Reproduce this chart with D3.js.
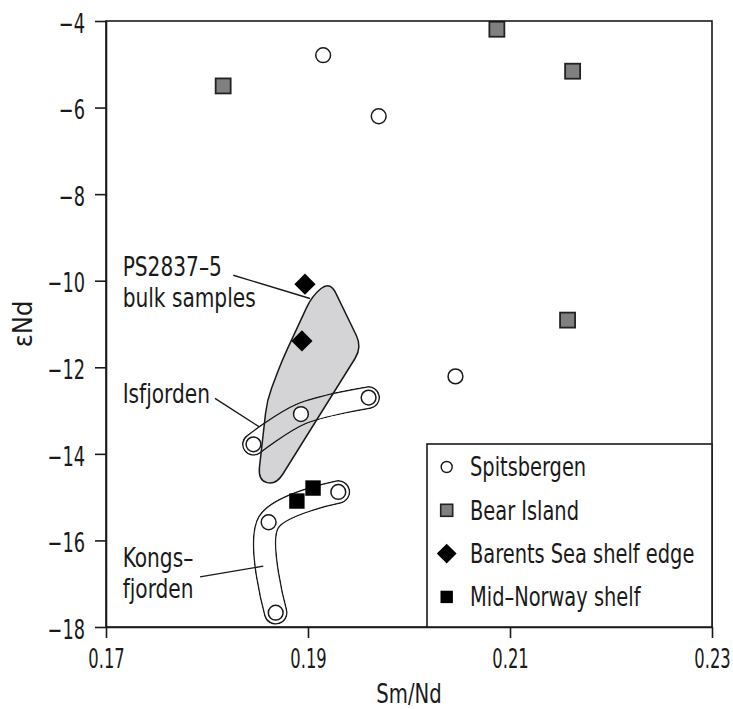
<!DOCTYPE html>
<html>
    <head>
        <meta charset='UTF-8'>
        <title>Sm/Nd vs eNd</title>
        <script src='https://d3js.org/d3.v7.min.js'></script>
        <style type='text/css'>
        body { margin: 0; background: white; }
        text { font-family: "Liberation Sans Narrow", "DejaVu Sans Condensed", sans-serif; fill: #1a1a1a; }
        </style>
    </head>
    <body>
        <div id="container"></div>
    </body>

    <script>
        // data
        var spitsX = [0.1915, 0.1970, 0.2046, 0.1846, 0.1893, 0.1960, 0.1861, 0.1868, 0.1930];
        var spitsY = [-4.79, -6.20, -12.21, -13.78, -13.08, -12.70, -15.58, -17.67, -14.88];
        var bearX = [0.1816, 0.2087, 0.2162, 0.2157];
        var bearY = [-5.50, -4.19, -5.16, -10.91];
        var barentsX = [0.1897, 0.1894];
        var barentsY = [-10.08, -11.39];
        var midNorX = [0.1889, 0.1905];
        var midNorY = [-15.09, -14.79];

        // outlines
        var bulkX = [0.19218, 0.19535, 0.18683, 0.18505, 0.18594, 0.18743, 0.19040];
        var bulkY = [-10.01, -11.536, -14.72, -14.61, -12.765, -11.84, -10.35];
        var isfTubeX = [0.1846, 0.1893, 0.1960];
        var isfTubeY = [-13.78, -13.08, -12.70];
        var kongsTubeX = [0.1868, 0.1861, 0.1930];
        var kongsTubeY = [-17.67, -15.58, -14.88];

        // labels + leader lines
        var labelText = ["PS2837–5", "bulk samples", "Isfjorden", "Kongs–", "fjorden"];
        var labelX = [0.17165, 0.17165, 0.17165, 0.17165, 0.17165];
        var labelY = [-9.884, -10.612, -12.83, -16.61, -17.33];
        var leaderX1 = [0.18260, 0.18079, 0.17931];
        var leaderY1 = [-9.873, -12.72, -16.841];
        var leaderX2 = [0.19020, 0.18518, 0.18557];
        var leaderY2 = [-10.411, -13.377, -16.594];

        var xTicks = [0.17, 0.19, 0.21, 0.23];
        var yTicks = [-4, -6, -8, -10, -12, -14, -16, -18];
        var legendNames = ["Spitsbergen", "Bear Island", "Barents Sea shelf edge", "Mid–Norway shelf"];

        var margin = {top: 21, right: 21, bottom: 82, left: 106};
        var width = 733 - margin.left - margin.right;
        var height = 709 - margin.top - margin.bottom;
        var ink = "#1a1a1a";

        var svgRoot = d3.select("#container").append("svg")
            .attr("width", 733)
            .attr("height", 709);
        var defs = svgRoot.append("defs");
        var svg = svgRoot.append("g")
            .attr("transform", "translate(" + margin.left + "," + margin.top + ")");

        var x = d3.scaleLinear().domain([0.17, 0.23]).range([0, width]);
        var y = d3.scaleLinear().domain([-18, -4]).range([height, 0]);

        // squash text horizontally, the original face is a narrow one
        function squeeze(sel, k) {
            sel.each(function() {
                var t = d3.select(this);
                var tx = +t.attr("x") || 0, ty = +t.attr("y") || 0;
                var prev = t.attr("transform") || "";
                t.attr("transform", prev + " translate(" + tx + "," + ty + ") scale(" + k + ",1)")
                    .attr("x", 0).attr("y", 0);
            });
        }

        function toward(p, q, r) {
            var dx = q[0] - p[0], dy = q[1] - p[1];
            var len = Math.sqrt(dx * dx + dy * dy);
            var k = Math.min(r, len / 2) / len;
            return [p[0] + dx * k, p[1] + dy * k];
        }

        // polygon with rounded corners
        function roundedPath(pts, r) {
            var n = pts.length, d = "";
            for (var i = 0; i < n; i++) {
                var a = toward(pts[i], pts[(i - 1 + n) % n], r);
                var b = toward(pts[i], pts[(i + 1) % n], r);
                d += (i == 0 ? "M" : "L") + a + "Q" + pts[i] + " " + b;
            }
            return d + "Z";
        }

        // bulk samples field
        var bulkPts = bulkX.map(function(v, i) { return [x(v), y(bulkY[i])]; });
        svg.append("path")
            .attr("d", roundedPath(bulkPts, 13))
            .attr("fill", "#d4d4d6")
            .attr("stroke", ink)
            .attr("stroke-width", 1.5);

        // open tube outline around a group of points
        function tube(id, xv, yv, w) {
            var pts = xv.map(function(v, i) { return [x(v), y(yv[i])]; });
            var line = d3.line().curve(d3.curveCatmullRom.alpha(0.5));
            var m = defs.append("mask").attr("id", id)
                .attr("maskUnits", "userSpaceOnUse")
                .attr("x", -200).attr("y", -200).attr("width", 1200).attr("height", 1200);
            m.append("path").attr("d", line(pts)).attr("fill", "none")
                .attr("stroke", "white").attr("stroke-width", w + 3)
                .attr("stroke-linecap", "round").attr("stroke-linejoin", "round");
            m.append("path").attr("d", line(pts)).attr("fill", "none")
                .attr("stroke", "black").attr("stroke-width", w)
                .attr("stroke-linecap", "round").attr("stroke-linejoin", "round");
            svg.append("path").attr("d", line(pts)).attr("fill", "none")
                .attr("stroke", ink).attr("stroke-width", w + 3)
                .attr("stroke-linecap", "round").attr("stroke-linejoin", "round")
                .attr("mask", "url(#" + id + ")");
        }
        tube("isfTube", isfTubeX, isfTubeY, 20);
        tube("kongsTube", kongsTubeX, kongsTubeY, 21);

        // leader lines
        svg.selectAll(".leader")
            .data(leaderX1)
            .enter().append("line")
            .attr("x1", function(d) { return x(d); })
            .attr("y1", function(d, i) { return y(leaderY1[i]); })
            .attr("x2", function(d, i) { return x(leaderX2[i]); })
            .attr("y2", function(d, i) { return y(leaderY2[i]); })
            .attr("stroke", ink)
            .attr("stroke-width", 1.4);

        var labels = svg.selectAll(".label")
            .data(labelText)
            .enter().append("text")
            .attr("x", function(d, i) { return x(labelX[i]); })
            .attr("y", function(d, i) { return y(labelY[i]); })
            .style("font-size", "27px")
            .text(function(d) { return d; });
        squeeze(labels, 0.83);

        // symbols
        svg.selectAll(".bear")
            .data(bearX)
            .enter().append("rect")
            .attr("x", function(d) { return x(d) - 7.5; })
            .attr("y", function(d, i) { return y(bearY[i]) - 7.5; })
            .attr("width", 15).attr("height", 15)
            .attr("fill", "#808080")
            .attr("stroke", "#222")
            .attr("stroke-width", 1.8);

        svg.selectAll(".barents")
            .data(barentsX)
            .enter().append("rect")
            .attr("x", -7.5).attr("y", -7.5)
            .attr("width", 15).attr("height", 15)
            .attr("transform", function(d, i) { return "translate(" + x(d) + "," + y(barentsY[i]) + ") rotate(45)"; })
            .attr("fill", "black");

        svg.selectAll(".spits")
            .data(spitsX)
            .enter().append("circle")
            .attr("cx", function(d) { return x(d); })
            .attr("cy", function(d, i) { return y(spitsY[i]); })
            .attr("r", 7.4)
            .attr("fill", "white")
            .attr("stroke", ink)
            .attr("stroke-width", 1.5);

        svg.selectAll(".midnor")
            .data(midNorX)
            .enter().append("rect")
            .attr("x", function(d) { return x(d) - 7.7; })
            .attr("y", function(d, i) { return y(midNorY[i]) - 7.7; })
            .attr("width", 15.4).attr("height", 15.4)
            .attr("fill", "black");

        // frame
        svg.append("rect")
            .attr("width", width)
            .attr("height", height)
            .attr("fill", "none")
            .attr("stroke", ink)
            .attr("stroke-width", 1.6);

        // axes
        var xAxis = svg.append("g")
            .attr("transform", "translate(0," + height + ")")
            .call(d3.axisBottom(x).tickValues(xTicks).tickFormat(d3.format(".2f")).tickSize(11).tickSizeOuter(0).tickPadding(12));
        var yAxis = svg.append("g")
            .call(d3.axisLeft(y).tickValues(yTicks).tickFormat(d3.format("d")).tickSize(11).tickSizeOuter(0).tickPadding(10));
        [xAxis, yAxis].forEach(function(a) {
            a.select(".domain").attr("stroke", ink).attr("stroke-width", 1.6);
            a.selectAll(".tick line").attr("stroke", ink).attr("stroke-width", 1.6);
            a.selectAll(".tick text").attr("fill", ink)
                .style("font-family", '"Liberation Sans Narrow", "DejaVu Sans Condensed", sans-serif')
                .style("font-size", "26px");
        });
        yAxis.selectAll(".tick text").attr("dy", "0.43em");
        squeeze(xAxis.selectAll(".tick text"), 0.7);
        squeeze(yAxis.selectAll(".tick text"), 0.76);

        var xTitle = svg.append("text")
            .attr("x", width / 2)
            .attr("y", height + 76)
            .attr("text-anchor", "middle")
            .style("font-size", "26px")
            .text("Sm/Nd");
        squeeze(xTitle, 0.84);

        svg.append("text")
            .attr("transform", "translate(" + (-74) + "," + (height / 2) + ") rotate(-90)")
            .attr("text-anchor", "middle")
            .style("font-size", "27px")
            .text("εNd");

        // legend
        var lg = svg.append("g");
        lg.append("rect")
            .attr("x", 321).attr("y", 423)
            .attr("width", width - 321).attr("height", height - 423)
            .attr("fill", "white")
            .attr("stroke", ink)
            .attr("stroke-width", 1.6);
        var rowY = function(i) { return 446 + i * 43.3; };
        var symX = 340.7;
        lg.append("circle").attr("cx", symX).attr("cy", rowY(0)).attr("r", 5.5)
            .attr("fill", "white").attr("stroke", ink).attr("stroke-width", 1.4);
        lg.append("rect").attr("x", symX - 6).attr("y", rowY(1) - 6).attr("width", 12).attr("height", 12)
            .attr("fill", "#808080").attr("stroke", "#222").attr("stroke-width", 1.6);
        lg.append("rect").attr("x", -7).attr("y", -7).attr("width", 14).attr("height", 14)
            .attr("transform", "translate(" + symX + "," + rowY(2) + ") rotate(45)")
            .attr("fill", "black");
        lg.append("rect").attr("x", symX - 6.2).attr("y", rowY(3) - 6.2).attr("width", 12.4).attr("height", 12.4)
            .attr("fill", "black");
        var lt = lg.selectAll(".lt")
            .data(legendNames)
            .enter().append("text")
            .attr("x", 364)
            .attr("y", function(d, i) { return rowY(i); })
            .attr("dy", "0.36em")
            .style("font-size", "26px")
            .text(function(d) { return d; });
        squeeze(lt, 0.83);
    </script>
</html>
